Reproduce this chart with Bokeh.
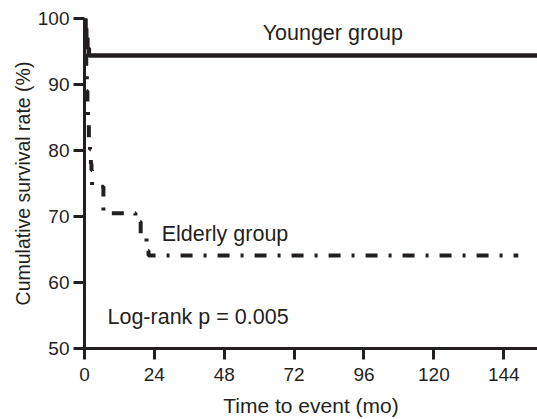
from bokeh.plotting import figure
from bokeh.models import Range1d, Label, FixedTicker
from bokeh.embed import file_html
from bokeh.resources import INLINE

# Data
young_t = [0, 0.3, 0.6, 1.0, 1.5, 155.6]
young_s = [100, 98.5, 97.0, 95.5, 94.4, 94.4]

old_t = [0, 0.3, 0.6, 0.8, 1.0, 1.2, 1.5, 1.9, 2.2, 2.4, 2.6, 6.5, 17.5, 19.3, 21.3, 22.0, 149.0]
old_s = [100, 96, 92, 89, 86.5, 84.3, 82, 80.2, 78, 77, 74.5, 70.5, 69.2, 67, 64.8, 64.1, 64.1]

x_ticks = [0, 24, 48, 72, 96, 120, 144]
y_ticks = [50, 60, 70, 80, 90, 100]

FONT = "Liberation Sans"
INK = "#231f20"

p = figure(width=537, height=419, output_backend="svg", toolbar_location=None,
           x_range=Range1d(0, 155.6), y_range=Range1d(50, 100),
           min_border_left=84, min_border_right=0, min_border_top=18, min_border_bottom=67)
p.outline_line_color = None
p.xgrid.visible = False
p.ygrid.visible = False
p.background_fill_color = "white"

p.step(young_t, young_s, mode="after", line_width=4.5, line_color=INK)
p.step(old_t, old_s, mode="after", line_width=4, line_color=INK, line_dash="12 11 3 11")

for ax in (p.xaxis, p.yaxis):
    ax.axis_line_width = 3
    ax.axis_line_color = INK
    ax.major_tick_line_width = 3
    ax.major_tick_line_color = INK
    ax.major_tick_in = 0
    ax.minor_tick_line_color = None
    ax.major_label_text_font = FONT
    ax.major_label_text_font_size = "19px"
    ax.major_label_text_color = INK
    ax.axis_label_text_font = FONT
    ax.axis_label_text_font_style = "normal"
    ax.axis_label_text_color = INK

p.xaxis.ticker = FixedTicker(ticks=x_ticks)
p.yaxis.ticker = FixedTicker(ticks=y_ticks)
p.xaxis.major_tick_out = 11
p.yaxis.major_tick_out = 11
p.xaxis.major_label_standoff = 8
p.yaxis.major_label_standoff = 4
p.xaxis.axis_label = "Time to event (mo)"
p.yaxis.axis_label = "Cumulative survival rate (%)"
p.xaxis.axis_label_text_font_size = "21px"
p.yaxis.axis_label_text_font_size = "19.5px"
p.xaxis.axis_label_standoff = 10
p.yaxis.axis_label_standoff = 1

for txt, x, y in [("Younger group", 61.2, 97.8), ("Elderly group", 26.5, 67.4), ("Log-rank p = 0.005", 7.9, 54.8)]:
    p.add_layout(Label(x=x, y=y, text=txt, text_font=FONT, text_font_size="21.5px",
                       text_color=INK, text_baseline="middle", text_align="left"))

open("out.html", "w").write(file_html(p, INLINE))
